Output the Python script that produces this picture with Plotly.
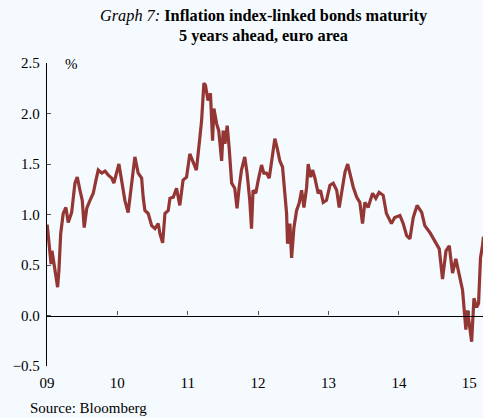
import plotly.graph_objects as go

# Weekly-ish readings of the 5y5y inflation-linked bond rate, euro area (%)
dates = [
    "2009-01-02", "2009-01-09", "2009-01-16", "2009-01-22", "2009-01-27", "2009-02-03",
    "2009-02-11", "2009-02-25", "2009-03-04", "2009-03-13", "2009-03-26", "2009-04-09",
    "2009-04-21", "2009-05-09", "2009-05-26", "2009-06-07", "2009-06-21", "2009-07-03",
    "2009-07-13", "2009-07-26", "2009-08-12", "2009-08-29", "2009-09-12", "2009-09-24",
    "2009-10-12", "2009-10-29", "2009-11-15", "2009-12-03", "2009-12-14", "2009-12-28",
    "2010-01-09", "2010-01-23", "2010-01-31", "2010-02-09", "2010-02-26", "2010-03-16",
    "2010-04-02", "2010-04-19", "2010-05-07", "2010-05-15", "2010-05-24", "2010-06-10",
    "2010-06-28", "2010-07-15", "2010-08-01", "2010-08-10", "2010-08-24", "2010-09-05",
    "2010-09-22", "2010-10-01", "2010-10-18", "2010-11-04", "2010-11-21", "2010-12-08",
    "2010-12-26", "2011-01-12", "2011-01-29", "2011-02-15", "2011-03-05", "2011-03-14",
    "2011-03-26", "2011-04-03", "2011-04-16", "2011-04-29", "2011-05-10", "2011-05-17",
    "2011-05-31", "2011-06-11", "2011-06-26", "2011-07-04", "2011-07-13", "2011-07-25",
    "2011-08-04", "2011-08-17", "2011-09-02", "2011-09-14", "2011-09-25", "2011-10-07",
    "2011-10-24", "2011-11-05", "2011-11-19", "2011-11-28", "2011-12-06", "2011-12-20",
    "2012-01-02", "2012-01-19", "2012-01-31", "2012-02-14", "2012-02-28", "2012-03-16",
    "2012-03-28", "2012-04-09", "2012-04-23", "2012-05-07", "2012-05-19", "2012-05-28",
    "2012-06-02", "2012-06-14", "2012-06-23", "2012-07-05", "2012-07-19", "2012-08-01",
    "2012-08-14", "2012-08-26", "2012-09-09", "2012-09-17", "2012-09-30", "2012-10-10",
    "2012-10-22", "2012-11-08", "2012-11-20", "2012-12-04", "2012-12-21", "2013-01-08",
    "2013-01-25", "2013-02-12", "2013-02-25", "2013-03-10", "2013-03-27", "2013-04-10",
    "2013-04-22", "2013-05-09", "2013-05-27", "2013-06-12", "2013-06-26", "2013-07-08",
    "2013-07-25", "2013-08-17", "2013-09-03", "2013-09-20", "2013-10-11", "2013-10-28",
    "2013-11-23", "2013-12-10", "2014-01-06", "2014-01-23", "2014-02-10", "2014-02-27",
    "2014-03-16", "2014-04-05", "2014-04-29", "2014-05-15", "2014-06-11", "2014-07-06",
    "2014-07-29", "2014-08-15", "2014-09-02", "2014-09-19", "2014-10-06", "2014-10-23",
    "2014-11-09", "2014-11-27", "2014-12-14", "2014-12-23", "2015-01-04", "2015-01-13",
    "2015-01-25", "2015-02-08", "2015-02-18", "2015-02-28", "2015-03-11", "2015-03-15",
]
values = [
    0.90, 0.74, 0.67, 0.51, 0.64, 0.55,
    0.45, 0.28, 0.45, 0.81, 1.01, 1.07,
    0.92, 1.02, 1.31, 1.37, 1.24, 1.14,
    0.87, 1.06, 1.14, 1.21, 1.34, 1.44,
    1.41, 1.43, 1.39, 1.36, 1.31, 1.42,
    1.50, 1.34, 1.24, 1.14, 1.02, 1.34,
    1.57, 1.41, 1.36, 1.17, 1.04, 1.01,
    0.89, 0.86, 0.91, 0.81, 0.72, 1.01,
    1.04, 1.16, 1.17, 1.26, 1.09, 1.34,
    1.37, 1.60, 1.52, 1.44, 1.76, 1.93,
    2.30, 2.28, 2.13, 2.20, 1.73, 2.05,
    1.90, 1.83, 1.53, 1.83, 1.70, 1.88,
    1.66, 1.31, 1.26, 1.06, 1.27, 1.44,
    1.57, 1.41, 1.14, 0.86, 1.24, 1.21,
    1.34, 1.49, 1.41, 1.41, 1.36, 1.60,
    1.75, 1.66, 1.53, 1.47, 1.24, 1.01,
    0.71, 0.91, 0.57, 0.87, 1.04, 1.11,
    1.24, 1.07, 1.27, 1.50, 1.37, 1.44,
    1.36, 1.21, 1.24, 1.12, 1.14, 1.29,
    1.31, 1.24, 1.07, 1.21, 1.42, 1.50,
    1.41, 1.27, 1.17, 1.12, 0.91, 1.12,
    1.07, 1.21, 1.16, 1.22, 1.19, 1.01,
    0.91, 0.97, 0.99, 0.91, 0.79, 0.76,
    0.97, 1.09, 1.02, 0.89, 0.82, 0.74,
    0.66, 0.36, 0.64, 0.69, 0.42, 0.56,
    0.42, 0.25, -0.14, 0.05, -0.13, -0.26,
    0.17, 0.08, 0.12, 0.57, 0.70, 0.78,
]

year_ticks = ["2009-01-01", "2010-01-01", "2011-01-01", "2012-01-01",
              "2013-01-01", "2014-01-01", "2015-01-01"]
year_labels = ["09", "10", "11", "12", "13", "14", "15"]
y_ticks = [-0.5, 0.0, 0.5, 1.0, 1.5, 2.0, 2.5]

bg = "#F5FAFE"
serif = "Liberation Serif, Times New Roman, serif"
x_range = ["2009-01-01", "2015-03-13"]
line_color = "#943634"

fig = go.Figure()
fig.add_trace(go.Scatter(x=dates, y=values, mode="lines",
                         line=dict(color=line_color, width=3.2), showlegend=False))
# invisible copy so the zero-line axis (x2) gets drawn
fig.add_trace(go.Scatter(x=dates, y=values, mode="lines", xaxis="x2",
                         line=dict(color=line_color, width=0), opacity=0,
                         hoverinfo="skip", showlegend=False))

fig.update_layout(
    width=483, height=418,
    margin=dict(l=47, r=0, t=63, b=52),
    paper_bgcolor=bg, plot_bgcolor=bg,
    font=dict(family=serif, size=15, color="black"),
    xaxis=dict(
        type="date", range=x_range,
        tickvals=year_ticks, ticktext=year_labels,
        showgrid=False, zeroline=False, showline=False,
        ticks="", ticklabelstandoff=6,
    ),
    # axis line drawn through zero, with the year ticks pointing up
    xaxis2=dict(
        type="date", range=x_range, overlaying="x",
        anchor="free", position=1 / 6,
        tickvals=year_ticks, showticklabels=False,
        showgrid=False, zeroline=False,
        showline=True, linecolor="black", linewidth=1.3,
        ticks="inside", ticklen=4, tickcolor="#555555", tickwidth=1,
    ),
    yaxis=dict(
        range=[-0.5, 2.5], tickvals=y_ticks, tickformat=".1f",
        showgrid=False, zeroline=False,
        showline=True, linecolor="black", linewidth=1.3,
        ticks="inside", ticklen=4, tickcolor="#555555",
        ticklabelstandoff=3,
    ),
    annotations=[
        dict(text="<i>Graph 7:</i> <b>Inflation index-linked bonds maturity</b>",
             xref="paper", yref="paper", x=0.496, y=1.158,
             xanchor="center", yanchor="middle", showarrow=False,
             font=dict(family=serif, size=16.3)),
        dict(text="<b>5 years ahead, euro area</b>",
             xref="paper", yref="paper", x=0.496, y=1.092,
             xanchor="center", yanchor="middle", showarrow=False,
             font=dict(family=serif, size=16.3)),
        dict(text="%", xref="paper", yref="paper", x=0.037, y=0.997,
             xanchor="left", yanchor="middle", showarrow=False,
             font=dict(family=serif, size=15)),
        dict(text="Source: Bloomberg", xref="paper", yref="paper",
             x=-0.0436, y=-0.139, xanchor="left", yanchor="middle",
             showarrow=False, font=dict(family=serif, size=15)),
    ],
)

# drop the default page margin so the figure fills the window exactly
fig.write_html("out.html", config={"displayModeBar": False},
               post_script="document.body.style.margin='0';"
               "document.body.style.overflow='hidden';")
